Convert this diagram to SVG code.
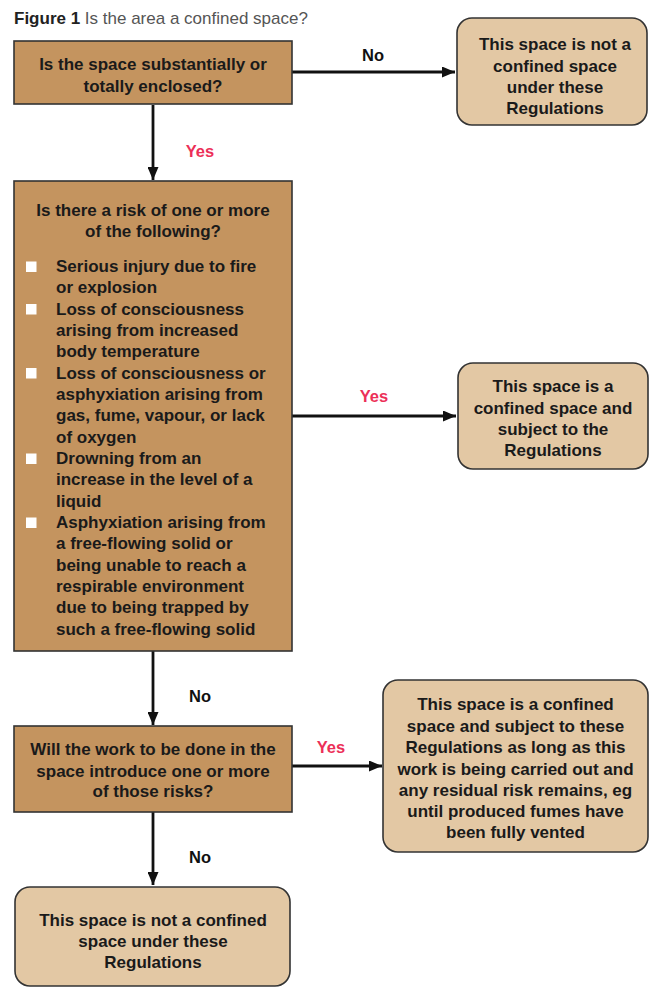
<svg xmlns="http://www.w3.org/2000/svg" width="649" height="987" viewBox="0 0 649 987">
<defs>
<marker id="ah" viewBox="0 0 13 11" refX="13" refY="5.5" markerWidth="13" markerHeight="11" markerUnits="userSpaceOnUse" orient="auto">
<path d="M0,0 L13,5.5 L0,11 Z" fill="#111"/>
</marker>
<style>
.dark{fill:#C4945F;stroke:#333;stroke-width:1.6}
.light{fill:#E3C8A4;stroke:#333;stroke-width:1.6}
text{font-family:"Liberation Sans",Arial,sans-serif;font-weight:bold;font-size:17px;fill:#1a1a1a}
.c{text-anchor:middle}
.lbl{font-size:16.5px}
.yes{fill:#EC2F58}
.no{fill:#111}
.conn{stroke:#111;stroke-width:2.8;fill:none;marker-end:url(#ah)}
.bul{fill:#fff}
</style>
</defs>
<rect width="649" height="987" fill="#fff"/>
<text x="14" y="24" style="font-size:17px;font-weight:bold;fill:#222">Figure 1 <tspan style="font-weight:normal;fill:#555">Is the area a confined space?</tspan></text>

<g id="connectors">
<line class="conn" x1="292" y1="72" x2="455" y2="72"/>
<line class="conn" x1="153" y1="105" x2="153" y2="180"/>
<line class="conn" x1="292" y1="416" x2="456" y2="416"/>
<line class="conn" x1="153" y1="651" x2="153" y2="725"/>
<line class="conn" x1="292" y1="766" x2="382" y2="766"/>
<line class="conn" x1="153" y1="812" x2="153" y2="885"/>
<text class="c lbl no" x="373" y="61">No</text>
<text class="c lbl yes" x="200" y="157">Yes</text>
<text class="c lbl yes" x="374" y="402">Yes</text>
<text class="c lbl no" x="200" y="702">No</text>
<text class="c lbl yes" x="331" y="753">Yes</text>
<text class="c lbl no" x="200" y="863">No</text>
</g>

<g id="q1">
<rect class="dark" x="14" y="41" width="278" height="63"/>
<text class="c" x="153" y="70">Is the space substantially or</text>
<text class="c" x="153" y="92">totally enclosed?</text>
</g>

<g id="notConfined1">
<rect class="light" x="457" y="18" width="190" height="107" rx="15"/>
<text class="c" x="555" y="50">This space is not a</text>
<text class="c" x="555" y="71.5">confined space</text>
<text class="c" x="555" y="93">under these</text>
<text class="c" x="555" y="114">Regulations</text>
</g>

<g id="q2">
<rect class="dark" x="14" y="181" width="278" height="470"/>
<text class="c" x="153" y="216">Is there a risk of one or more</text>
<text class="c" x="153" y="237">of the following?</text>
<rect class="bul" x="26" y="261.5" width="10.5" height="10.5"/>
<rect class="bul" x="26" y="304" width="10.5" height="10.5"/>
<rect class="bul" x="26" y="368" width="10.5" height="10.5"/>
<rect class="bul" x="26" y="453.5" width="10.5" height="10.5"/>
<rect class="bul" x="26" y="517.5" width="10.5" height="10.5"/>
<text x="56" y="272">Serious injury due to fire</text>
<text x="56" y="293.3">or explosion</text>
<text x="56" y="314.6">Loss of consciousness</text>
<text x="56" y="336">arising from increased</text>
<text x="56" y="357.3">body temperature</text>
<text x="56" y="378.6">Loss of consciousness or</text>
<text x="56" y="400">asphyxiation arising from</text>
<text x="56" y="421.3">gas, fume, vapour, or lack</text>
<text x="56" y="442.6">of oxygen</text>
<text x="56" y="464">Drowning from an</text>
<text x="56" y="485.3">increase in the level of a</text>
<text x="56" y="506.6">liquid</text>
<text x="56" y="528">Asphyxiation arising from</text>
<text x="56" y="549.3">a free-flowing solid or</text>
<text x="56" y="570.6">being unable to reach a</text>
<text x="56" y="592">respirable environment</text>
<text x="56" y="613.3">due to being trapped by</text>
<text x="56" y="634.6">such a free-flowing solid</text>
</g>

<g id="confined1">
<rect class="light" x="458" y="363" width="190" height="106" rx="15"/>
<text class="c" x="553" y="392">This space is a</text>
<text class="c" x="553" y="413.5">confined space and</text>
<text class="c" x="553" y="435">subject to the</text>
<text class="c" x="553" y="456">Regulations</text>
</g>

<g id="q3">
<rect class="dark" x="14" y="726" width="278" height="86"/>
<text class="c" x="153" y="755">Will the work to be done in the</text>
<text class="c" x="153" y="776.5">space introduce one or more</text>
<text class="c" x="153" y="797">of those risks?</text>
</g>

<g id="confined2">
<rect class="light" x="383" y="680" width="265" height="172" rx="15"/>
<text class="c" x="515.5" y="710">This space is a confined</text>
<text class="c" x="515.5" y="731.5">space and subject to these</text>
<text class="c" x="515.5" y="753">Regulations as long as this</text>
<text class="c" x="515.5" y="774.5">work is being carried out and</text>
<text class="c" x="515.5" y="796">any residual risk remains, eg</text>
<text class="c" x="515.5" y="817">until produced fumes have</text>
<text class="c" x="515.5" y="838">been fully vented</text>
</g>

<g id="notConfined2">
<rect class="light" x="15" y="887" width="275" height="99" rx="15"/>
<text class="c" x="153" y="926">This space is not a confined</text>
<text class="c" x="153" y="947">space under these</text>
<text class="c" x="153" y="968">Regulations</text>
</g>
</svg>
